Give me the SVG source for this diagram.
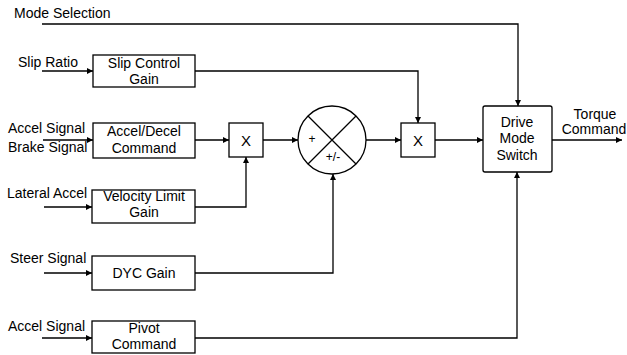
<svg xmlns="http://www.w3.org/2000/svg" width="627" height="355" viewBox="0 0 627 355">
<defs>
<style>
text{font-family:"Liberation Sans",Arial,sans-serif;font-size:14px;fill:#000}
.c{text-anchor:middle}
.box{fill:#fff;stroke:#000;stroke-width:1.3}
.ln{fill:none;stroke:#000;stroke-width:1.3}
</style>
<marker id="ah" viewBox="0 0 10 10" refX="10" refY="5" markerWidth="8" markerHeight="6" markerUnits="userSpaceOnUse" orient="auto">
<path d="M0,0 L10,5 L0,10 z" fill="#000"/>
</marker>
</defs>
<rect width="627" height="355" fill="#fff"/>
<g id="connectors">
<path class="ln" d="M42,24 H518 V106" marker-end="url(#ah)"/>
<path class="ln" d="M42,71 H93" marker-end="url(#ah)"/>
<path class="ln" d="M195,71 H418 V123" marker-end="url(#ah)"/>
<path class="ln" d="M43,140 H93" marker-end="url(#ah)"/>
<path class="ln" d="M195,140 H229" marker-end="url(#ah)"/>
<path class="ln" d="M44,207 H92" marker-end="url(#ah)"/>
<path class="ln" d="M195,207 H246 V157" marker-end="url(#ah)"/>
<path class="ln" d="M263,140 H298" marker-end="url(#ah)"/>
<path class="ln" d="M366,140 H401" marker-end="url(#ah)"/>
<path class="ln" d="M435,140 H483" marker-end="url(#ah)"/>
<path class="ln" d="M552,140 H622" marker-end="url(#ah)"/>
<path class="ln" d="M44,273 H92" marker-end="url(#ah)"/>
<path class="ln" d="M195,273 H333 V174" marker-end="url(#ah)"/>
<path class="ln" d="M42,338 H92" marker-end="url(#ah)"/>
<path class="ln" d="M195,338 H517 V172" marker-end="url(#ah)"/>
</g>
<g id="labels">
<text x="14" y="18">Mode Selection</text>
<text x="18" y="67">Slip Ratio</text>
<text x="8" y="133">Accel Signal</text>
<text x="8" y="152">Brake Signal</text>
<text x="7" y="198">Lateral Accel</text>
<text x="10" y="263">Steer Signal</text>
<text x="8" y="331">Accel Signal</text>
<text class="c" x="595" y="119">Torque</text>
<text class="c" x="594" y="134">Command</text>
</g>
<g id="slip-control-gain">
<rect class="box" x="93" y="55" width="102" height="32"/>
<text class="c" x="144" y="68">Slip Control</text>
<text class="c" x="144" y="84">Gain</text>
</g>
<g id="accel-decel-command">
<rect class="box" x="93" y="123" width="102" height="35"/>
<text class="c" x="144" y="136">Accel/Decel</text>
<text class="c" x="144" y="153">Command</text>
</g>
<g id="velocity-limit-gain">
<rect class="box" x="92" y="190" width="103" height="33"/>
<text class="c" x="144" y="201">Velocity Limit</text>
<text class="c" x="144" y="217">Gain</text>
</g>
<g id="dyc-gain">
<rect class="box" x="92" y="256" width="103" height="34"/>
<text class="c" x="144" y="278">DYC Gain</text>
</g>
<g id="pivot-command">
<rect class="box" x="92" y="321" width="103" height="32"/>
<text class="c" x="144" y="333">Pivot</text>
<text class="c" x="144" y="349">Command</text>
</g>
<g id="multiply-1">
<rect class="box" x="229" y="123" width="34" height="34"/>
<text class="c" x="246" y="146" style="font-size:15px">X</text>
</g>
<g id="summing-junction">
<circle class="box" cx="332" cy="140" r="34"/>
<path class="ln" d="M308,116 L356,164 M356,116 L308,164"/>
<text class="c" x="312" y="143" style="font-size:12px">+</text>
<text class="c" x="333" y="161" style="font-size:12px">+/-</text>
</g>
<g id="multiply-2">
<rect class="box" x="401" y="123" width="34" height="34"/>
<text class="c" x="418" y="146" style="font-size:15px">X</text>
</g>
<g id="drive-mode-switch">
<rect class="box" x="483" y="106" width="69" height="66" rx="2"/>
<text class="c" x="517" y="127">Drive</text>
<text class="c" x="517" y="143">Mode</text>
<text class="c" x="517" y="160">Switch</text>
</g>
</svg>
